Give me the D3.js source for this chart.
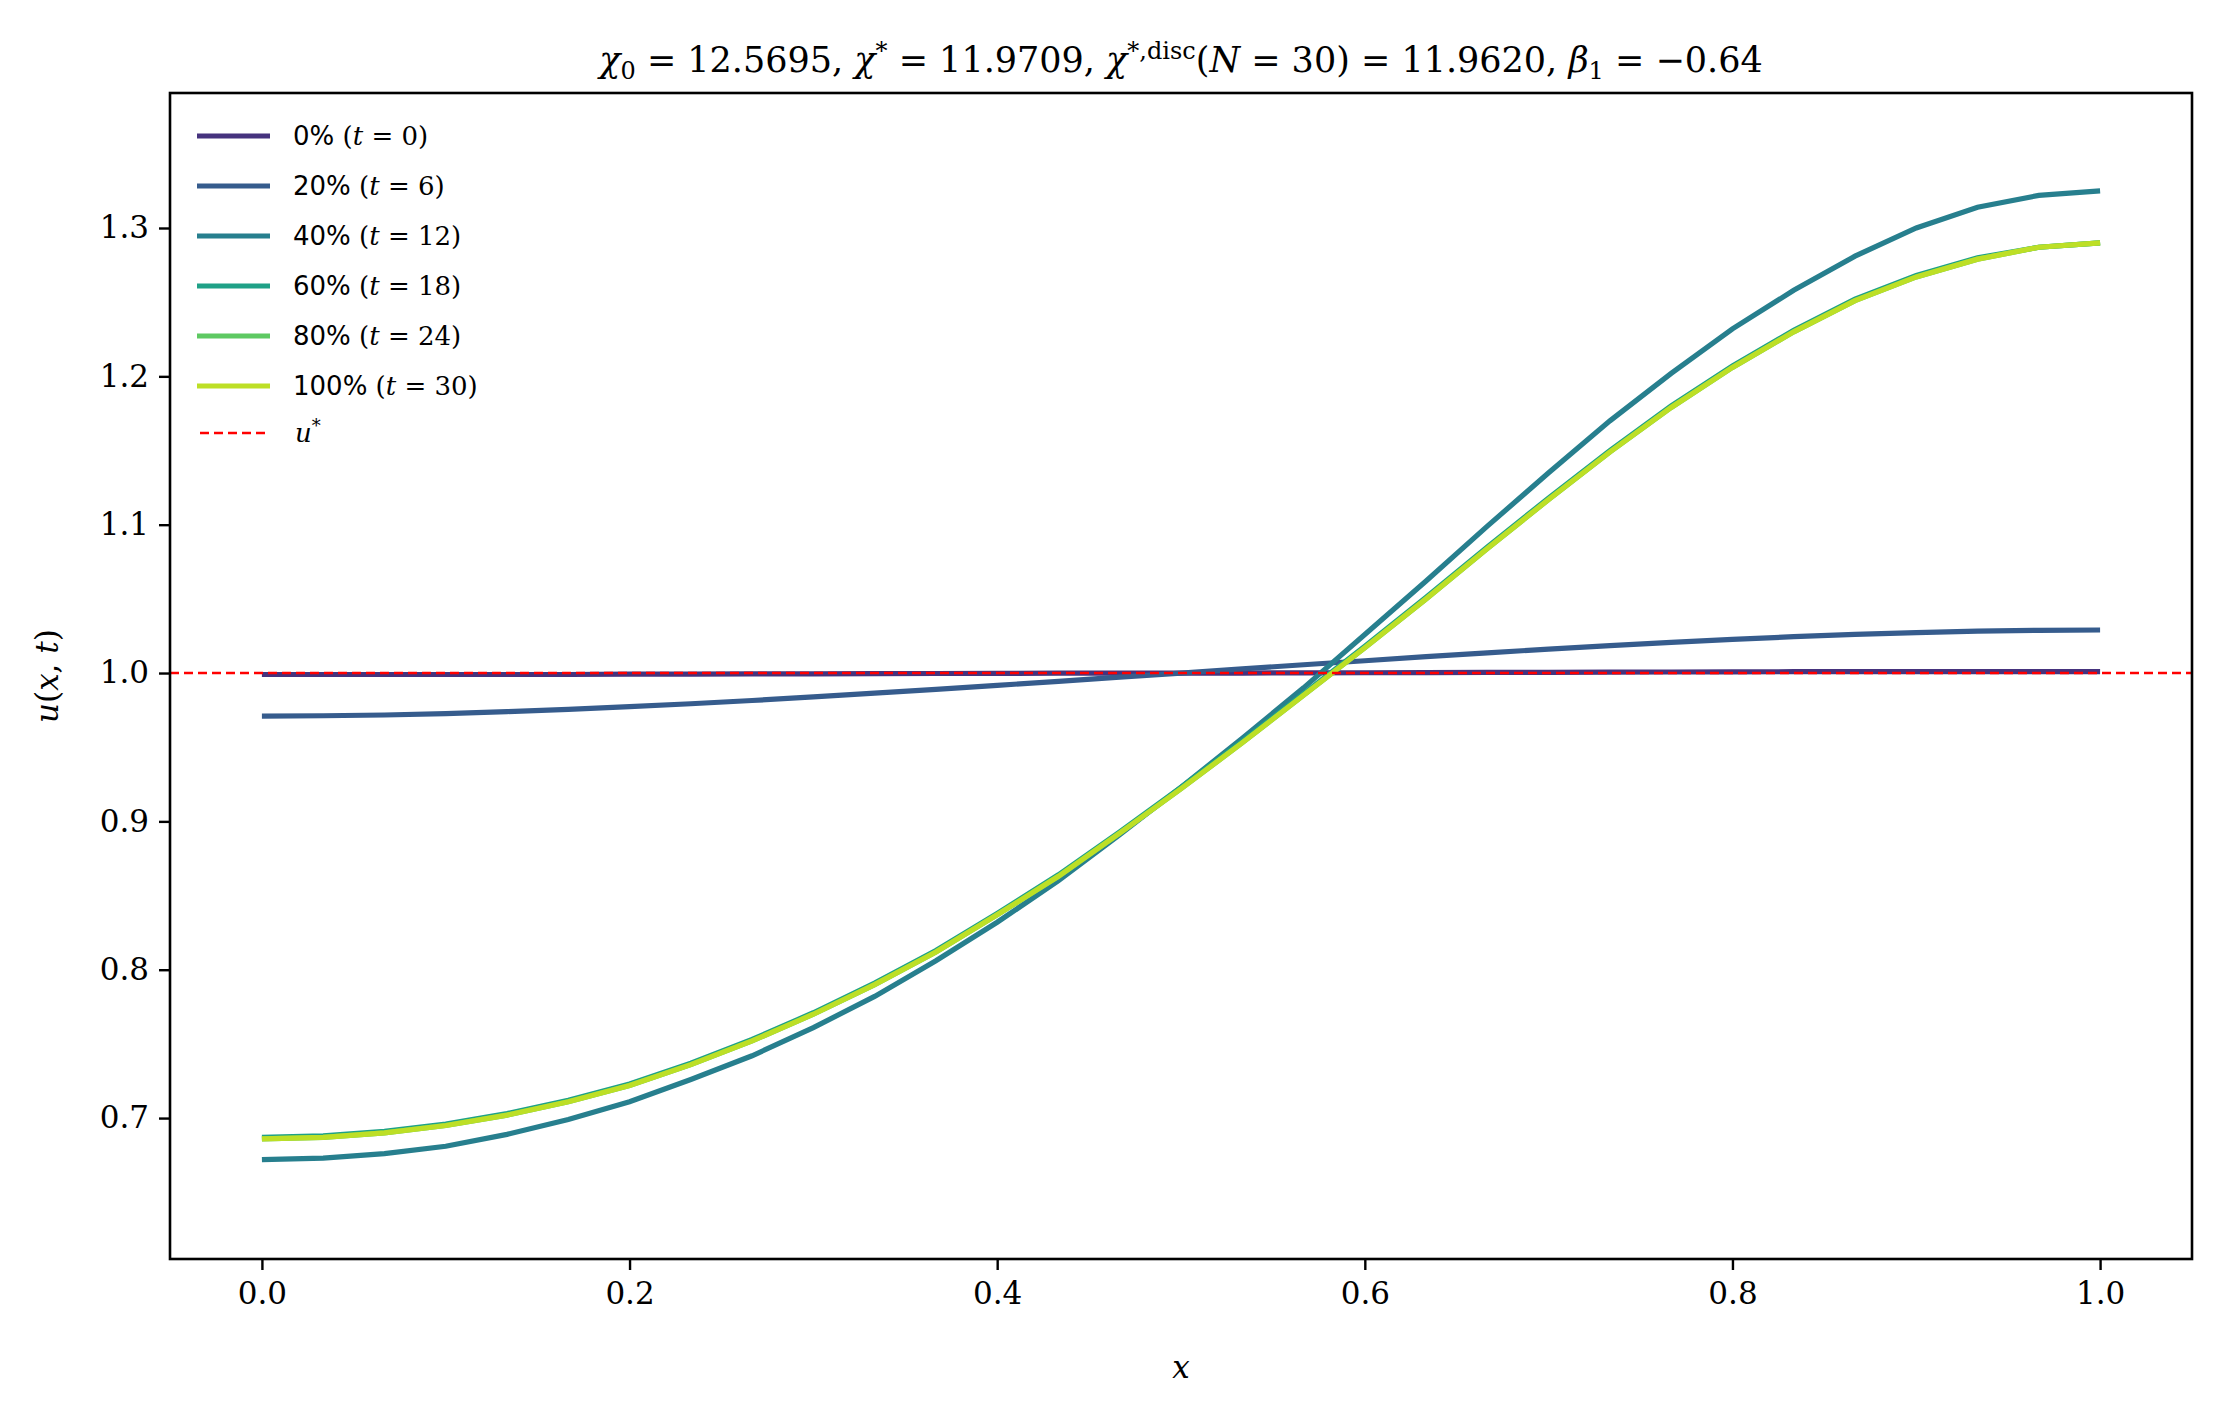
<!DOCTYPE html>
<html><head><meta charset="utf-8">
<script src="https://cdn.jsdelivr.net/npm/d3@7"></script>
<style>body{margin:0;background:#fff}text{font-family:"DejaVu Serif","Liberation Serif",serif}</style>
</head><body><svg id="c" width="2220" height="1409"></svg>
<script>
const xs = d3.range(31).map(i => i / 30)
const u0 = [0.999,0.999,0.999,0.999,0.999,0.999,0.9992,0.9993,0.9994,0.9995,0.9996,0.9997,0.9998,0.9999,1.0,1.0,1.0,1.0001,1.0002,1.0003,1.0004,1.0005,1.0006,1.0007,1.0008,1.0009,1.001,1.001,1.001,1.001,1.001]
const u20 = [0.971,0.9712,0.9717,0.9727,0.974,0.9755,0.9773,0.9793,0.9815,0.9839,0.9864,0.989,0.9917,0.9944,0.9972,1.0,1.0028,1.0056,1.0083,1.011,1.0136,1.0161,1.0185,1.0207,1.0227,1.0245,1.026,1.0273,1.0283,1.0288,1.029]
const u40 = [0.672,0.673,0.676,0.681,0.689,0.699,0.711,0.726,0.742,0.761,0.782,0.806,0.832,0.860,0.891,0.923,0.956,0.990,1.026,1.062,1.099,1.135,1.170,1.202,1.232,1.258,1.281,1.300,1.314,1.322,1.325]
const u60 = [0.687,0.688,0.691,0.696,0.703,0.712,0.723,0.737,0.753,0.771,0.791,0.813,0.838,0.864,0.893,0.923,0.954,0.986,1.018,1.051,1.085,1.118,1.150,1.180,1.207,1.231,1.252,1.268,1.280,1.287,1.290]
const u80 = [0.686,0.687,0.690,0.695,0.702,0.711,0.722,0.736,0.752,0.770,0.790,0.812,0.837,0.863,0.892,0.922,0.953,0.985,1.017,1.050,1.084,1.117,1.149,1.179,1.206,1.230,1.251,1.267,1.279,1.287,1.290]
const u100 = [0.686,0.687,0.690,0.695,0.702,0.711,0.722,0.736,0.752,0.770,0.790,0.812,0.837,0.863,0.892,0.922,0.953,0.985,1.017,1.050,1.084,1.117,1.149,1.179,1.206,1.230,1.251,1.267,1.279,1.287,1.290]
const pcts = ['0%','20%','40%','60%','80%','100%']
const times = [0,6,12,18,24,30]
const series = [u0,u20,u40,u60,u80,u100]
const colors = ['#46337e','#365c8d','#277f8e','#1fa187','#5ec962','#bddf26']
const xTicks = [0,0.2,0.4,0.6,0.8,1.0]
const yTicks = [0.7,0.8,0.9,1.0,1.1,1.2,1.3]

const svg = d3.select('#c')
const L = 170, R = 2192, T = 93, B = 1259
const x = d3.scaleLinear().domain([-0.05,1.05]).range([L,R])
const y = d3.scaleLinear().domain([0.605,1.391]).range([B,T])

const line = d3.line().x((d,i) => x(xs[i])).y(d => y(d))
series.forEach((s,k) => {
  svg.append('path').attr('d', line(s)).attr('fill','none')
    .attr('stroke', colors[k]).attr('stroke-width', 5.2)
})
svg.append('line').attr('x1',L).attr('x2',R).attr('y1',y(1)).attr('y2',y(1))
  .attr('stroke','red').attr('stroke-width',2.6).attr('stroke-dasharray','9,5')

const xa = svg.append('g').attr('transform',`translate(0,${B})`)
  .call(d3.axisBottom(x).tickValues(xTicks).tickFormat(d3.format('.1f')).tickSizeOuter(0).tickSize(11).tickPadding(12))
const ya = svg.append('g').attr('transform',`translate(${L},0)`)
  .call(d3.axisLeft(y).tickValues(yTicks).tickFormat(d3.format('.1f')).tickSizeOuter(0).tickSize(11).tickPadding(10))
;[xa,ya].forEach(a => {
  a.selectAll('text').attr('font-size',31).attr('font-family','"DejaVu Serif",serif').attr('fill','#000')
  a.selectAll('line').attr('stroke-width',2.4)
  a.select('.domain').remove()
})
svg.append('rect').attr('x',L).attr('y',T).attr('width',R-L).attr('height',B-T)
  .attr('fill','none').attr('stroke','#000').attr('stroke-width',2.6)

// title
const title = svg.append('text').attr('x',(L+R)/2).attr('y',72).attr('text-anchor','middle').attr('font-size',35)
title.append('tspan').attr('font-style','italic').text('χ')
title.append('tspan').attr('font-size',24).attr('dy',7).text('0')
title.append('tspan').attr('dy',-7).text(' = 12.5695,  ')
title.append('tspan').attr('font-style','italic').text('χ')
title.append('tspan').attr('font-size',24).attr('dy',-13).text('*')
title.append('tspan').attr('dy',13).text(' = 11.9709,  ')
title.append('tspan').attr('font-style','italic').text('χ')
title.append('tspan').attr('font-size',24).attr('dy',-13).text('*,disc')
title.append('tspan').attr('dy',13).text('(')
title.append('tspan').attr('font-style','italic').text('N')
title.append('tspan').text(' = 30) = 11.9620,  ')
title.append('tspan').attr('font-style','italic').text('β')
title.append('tspan').attr('font-size',24).attr('dy',7).text('1')
title.append('tspan').attr('dy',-7).text(' = −0.64')

// axis labels
svg.append('text').attr('x',(L+R)/2).attr('y',1378).attr('text-anchor','middle')
  .attr('font-size',31).attr('font-style','italic').text('x')
const yl = svg.append('text').attr('transform',`translate(58,${(T+B)/2}) rotate(-90)`)
  .attr('text-anchor','middle').attr('font-size',31)
yl.append('tspan').attr('font-style','italic').text('u')
yl.append('tspan').text('(')
yl.append('tspan').attr('font-style','italic').text('x')
yl.append('tspan').text(', ')
yl.append('tspan').attr('font-style','italic').text('t')
yl.append('tspan').text(')')

// legend
const lg = svg.append('g')
pcts.forEach((p,k) => {
  const yy = 136 + k * 50
  lg.append('line').attr('x1',197).attr('x2',270).attr('y1',yy).attr('y2',yy)
    .attr('stroke',colors[k]).attr('stroke-width',5.2)
  const t = lg.append('text').attr('x',293).attr('y',yy+9).attr('font-size',26)
  t.append('tspan').attr('font-family','"DejaVu Sans",sans-serif').text(p + ' ')
  t.append('tspan').text('(')
  t.append('tspan').attr('font-style','italic').text('t')
  t.append('tspan').text(' = ' + times[k] + ')')
})
lg.append('line').attr('x1',200).attr('x2',267).attr('y1',433).attr('y2',433)
  .attr('stroke','red').attr('stroke-width',2.6).attr('stroke-dasharray','9,5')
const us = lg.append('text').attr('x',295).attr('y',442).attr('font-size',26)
us.append('tspan').attr('font-style','italic').text('u')
us.append('tspan').attr('font-size',18).attr('dy',-10).text('*')
</script></body></html>
